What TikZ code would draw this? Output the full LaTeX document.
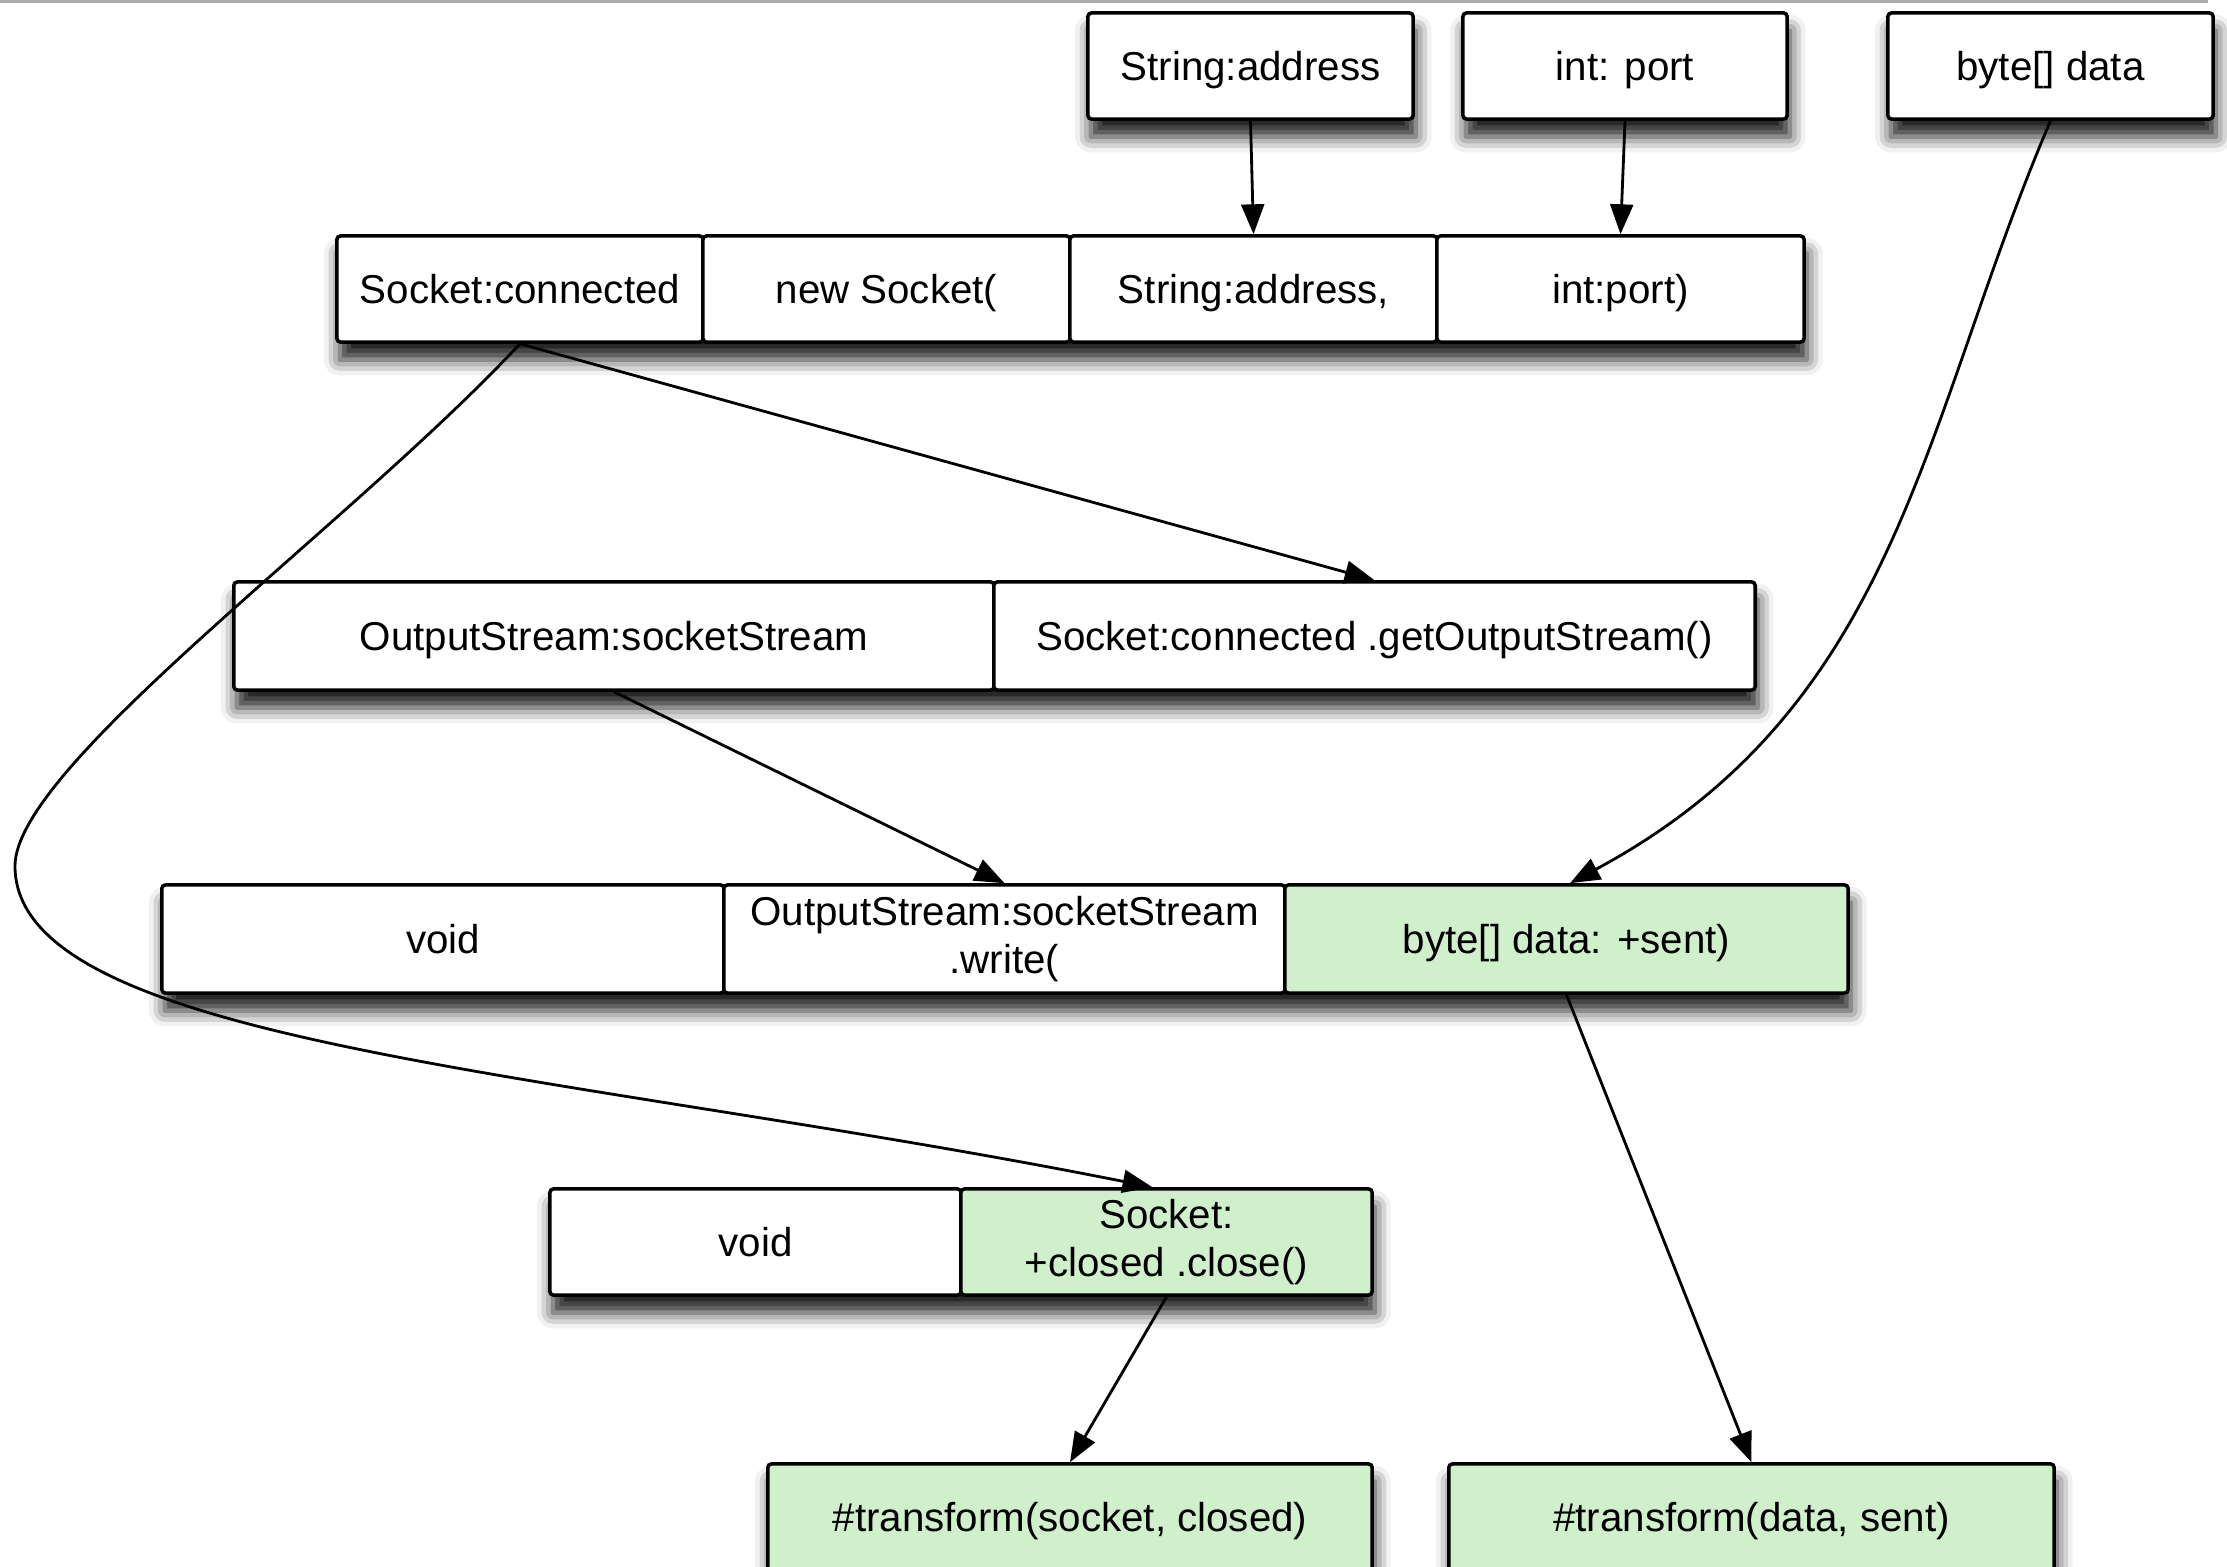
\documentclass[tikz,border=0pt]{standalone}
\usepackage{fontspec}
\setmainfont{Liberation Sans}
\usetikzlibrary{arrows.meta,shadows.blur}

\definecolor{sentgreen}{RGB}{208,240,204}
\definecolor{topbar}{RGB}{172,172,172}

\begin{document}
\begin{tikzpicture}[x=0.01cm,y=-0.01cm,
  cell/.style={draw=black, line width=1pt, rounded corners=1pt, fill=white,
    inner sep=0pt, align=center, font=\fontsize{11.46}{13.7}\selectfont},
  done/.style={cell, fill=sentgreen},
  oneline/.style={text height=9pt, text depth=0.8pt},
  wh/.style 2 args={minimum width=#1cm, minimum height=#2cm},
  rowshadow/.style={blur shadow={shadow xshift=0.8pt, shadow yshift=-5pt,
    shadow blur radius=4.5pt, shadow opacity=90}},
  link/.style={line width=0.8pt, -{Triangle[length=8.5pt,width=6.5pt,fill=black]}},
]
\useasboundingbox (0,0) rectangle (2227,1567);
\clip (0,0) rectangle (2227,1567);

% thin bar along the top edge
\fill[topbar] (0,0) rectangle (2208,3);

% soft shadows under every row of boxes
\path[rowshadow] (1088,13) rectangle (1413,119);
\path[rowshadow] (1463,13) rectangle (1787,119);
\path[rowshadow] (1888,13) rectangle (2213,119);
\path[rowshadow] (337,236) rectangle (1804,342);
\path[rowshadow] (234,582) rectangle (1755,690);
\path[rowshadow] (162,885) rectangle (1848,993);
\path[rowshadow] (550,1189) rectangle (1372,1295);
\path[rowshadow] (768,1464) rectangle (1372,1575);
\path[rowshadow] (1449,1464) rectangle (2054,1575);

% inputs
\node[cell, oneline, wh={3.25}{1.06}] (addr) at (1250.5,66) {String:address};
\node[cell, oneline, wh={3.24}{1.06}] (port) at (1625,66) {int: port};
\node[cell, oneline, wh={3.25}{1.06}] (data) at (2050.5,66) {byte[] data};

% socket construction
\node[cell, oneline, wh={3.66}{1.06}] (sc) at (520,289) {Socket:connected};
\node[cell, oneline, wh={3.67}{1.06}] (ns) at (886.5,289) {new Socket(};
\node[cell, oneline, wh={3.67}{1.06}] (sa) at (1253.5,289) {String:address,};
\node[cell, oneline, wh={3.67}{1.06}] (ip) at (1620.5,289) {int:port)};

% output stream
\node[cell, oneline, wh={7.60}{1.08}] (os) at (614,636) {OutputStream:socketStream};
\node[cell, oneline, wh={7.61}{1.08}] (gos) at (1374.5,636) {Socket:connected .getOutputStream()};

% write
\node[cell, oneline, wh={5.62}{1.08}] (v1) at (443,939) {void};
\node[cell, wh={5.61}{1.08}] (wr) at (1004.5,939) {OutputStream:socketStream\\.write(};
\node[done, oneline, wh={5.63}{1.08}] (sent) at (1566.5,939) {byte[] data: +sent)};

% close
\node[cell, oneline, wh={4.11}{1.06}] (v2) at (755.5,1242) {void};
\node[done, wh={4.11}{1.06}] (cl) at (1166.5,1242) {Socket:\\+closed .close()};

% transforms
\node[done, oneline, wh={6.04}{1.07}] (tsc) at (1070,1517.5) {\#transform(socket, closed)};
\node[done, oneline, wh={6.05}{1.07}] (tds) at (1751.5,1517.5) {\#transform(data, sent)};

% connectors
\draw[link] (addr.south) -- (sa.north);
\draw[link] (port.south) -- (ip.north);
\draw[link] (data.south) .. controls (1921,423) and (1900,706) .. ([xshift=1pt]sent.north);
\draw[link] (sc.south) -- (gos.north);
\draw[link] (os.south) -- (wr.north);
\draw[link] (sent.south) -- (tds.north);
\draw[link] (cl.south) -- (tsc.north);
\draw[link] (sc.south) .. controls (350,526) and (15,766) .. (15,866)
  .. controls (15,1046) and (564,1070) .. ([xshift=-4pt]cl.north);
\end{tikzpicture}
\end{document}
